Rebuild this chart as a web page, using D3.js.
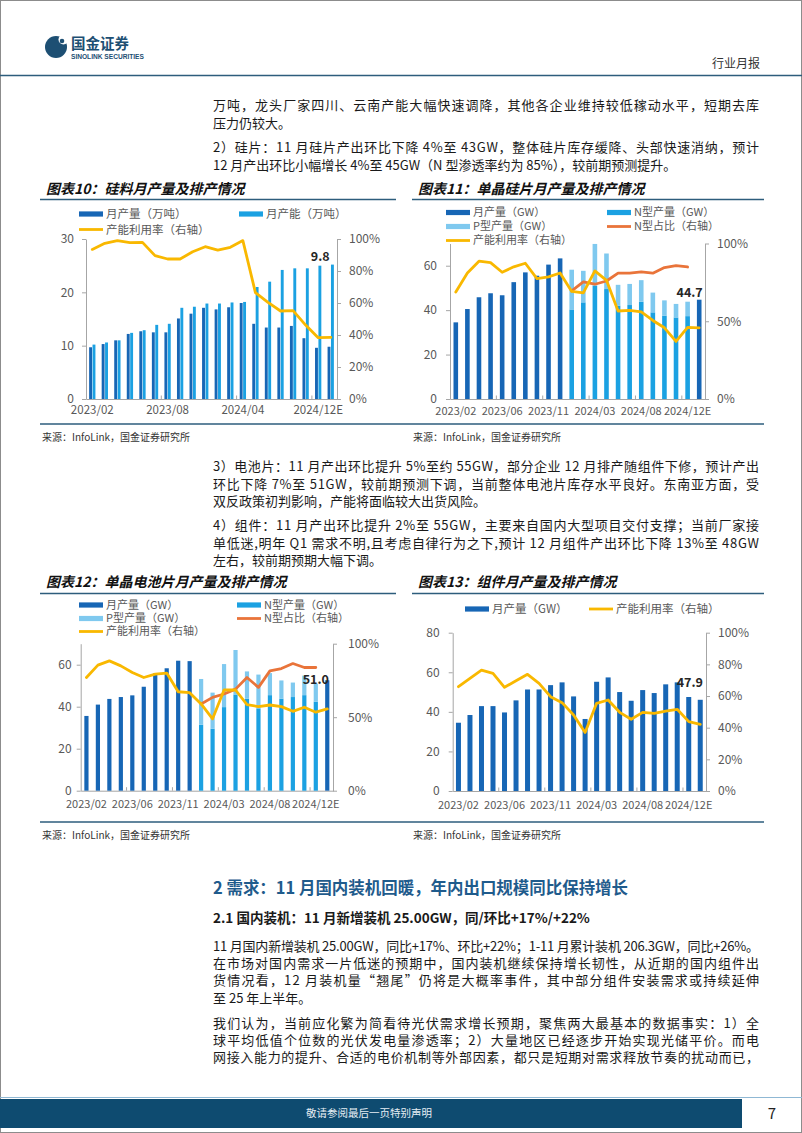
<!DOCTYPE html>
<html><head><meta charset="utf-8">
<script src="https://cdn.jsdelivr.net/npm/d3@7"></script>
<style>
body{margin:0;background:#fff;}
svg{display:block;font-family:"Noto Sans CJK SC","Noto Sans",sans-serif;}
</style></head><body>
<svg id="page" width="802" height="1133"></svg>
<script>
// ---------------- DATA ----------------
// Chart 10: polysilicon
const c10TickLabels = ["2023/02","2023/08","2024/04","2024/12E"];
const c10TickIdx = [0,6,12,18];
const c10Output   = [9.7,10.3,11.0,12.2,12.7,12.5,12.5,15.1,16.0,17.1,16.8,17.2,18.0,14.1,13.4,13.4,13.7,11.4,9.6,9.8];
const c10Capacity = [10.2,10.6,11.0,12.4,12.9,13.9,14.1,17.1,17.3,17.9,17.9,18.1,18.2,21.0,22.0,24.2,24.5,24.5,25.0,25.2];
const c10Util     = [0.935,0.973,0.99,0.977,0.979,0.896,0.875,0.875,0.92,0.952,0.931,0.948,0.99,0.665,0.604,0.55,0.552,0.462,0.383,0.385];
const c10LabelIdx = 18, c10LabelText = "9.8";

// Chart 11: mono wafers
const c11TickLabels = ["2023/02","2023/06","2023/11","2024/03","2024/08","2024/12E"];
const c11TickIdx = [0,4,8,12,16,20];
const N = null;
const c11Output = [34.5,40.5,45.8,47.6,46.7,52.6,57.0,55.5,60.5,63.3,N,N,N,N,N,N,N,N,N,N,N,44.7];
const c11NType  = [N,N,N,N,N,N,N,N,N,N,40.3,43.5,51.0,49.5,42.0,42.3,43.8,39.0,37.5,36.7,37.3,N];
const c11PType  = [N,N,N,N,N,N,N,N,N,N,17.9,14.2,18.8,16.0,9.4,9.5,9.7,8.9,6.9,6.1,6.5,N];
const c11NShare = [N,N,N,N,N,N,N,N,N,N,0.695,0.753,0.738,0.759,0.81,0.81,0.817,0.809,0.845,0.858,0.849,N];
const c11Util   = [0.688,0.81,0.886,0.877,0.815,0.85,0.873,0.774,0.785,0.81,0.692,0.682,0.824,0.763,0.566,0.57,0.561,0.505,0.458,0.37,0.46,0.458];
const c11LabelIdx = 20, c11LabelText = "44.7";

// Chart 12: mono cells
const c12TickLabels = ["2023/02","2023/06","2023/11","2024/03","2024/08","2024/12E"];
const c12TickIdx = [0,4,8,12,16,20];
const c12Output = [35.6,41.0,43.7,44.6,45.4,49.5,55.9,58.3,61.9,61.7,N,N,N,N,N,N,N,N,N,N,N,52.6];
const c12NType  = [N,N,N,N,N,N,N,N,N,N,31.4,29.5,39.8,45.8,43.8,39.2,45.5,43.8,44.6,45.5,42.4,N];
const c12PType  = [N,N,N,N,N,N,N,N,N,N,21.8,17.2,20.5,21.2,13.0,16.1,10.5,8.7,6.9,9.3,8.6,N];
const c12NShare = [N,N,N,N,N,N,N,N,N,N,0.59,0.635,0.658,0.691,0.77,0.703,0.815,0.831,0.865,0.838,0.838,N];
const c12Util   = [0.77,0.854,0.883,0.849,0.804,0.77,0.793,0.80,0.673,0.667,0.59,0.489,0.685,0.685,0.586,0.572,0.583,0.572,0.54,0.568,0.534,0.556];
const c12LabelIdx = 20, c12LabelText = "51.0";

// Chart 13: modules
const c13TickLabels = ["2023/02","2023/06","2023/11","2024/03","2024/08","2024/12E"];
const c13TickIdx = [0,4,8,12,16,20];
const c13Output = [34.5,38.4,42.9,42.9,39.7,45.8,51.3,51.3,53.5,54.9,47.8,36.4,55.2,57.4,50.0,45.6,51.0,49.5,53.9,54.9,47.5,46.1];
const c13Util   = [0.659,0.712,0.764,0.743,0.655,0.697,0.737,0.68,0.596,0.558,0.48,0.37,0.554,0.575,0.497,0.453,0.497,0.49,0.505,0.516,0.438,0.421];
const c13LabelIdx = 20, c13LabelText = "47.9";

// ---------------- STYLE ----------------
const DARK = "#1766b5", NBLUE = "#1ba1e2", PBLUE = "#7fc9ef", YEL = "#f9b800", ORG = "#e9743a";
const AXIS = "#a6a6a6", TXT = "#595959", RULE = "#2d5d7c";

const svg = d3.select("#page");

// page frame
svg.append("rect").attr("x",0.5).attr("y",0.5).attr("width",801).attr("height",1132)
  .attr("fill","none").attr("stroke","#8c8c8c");

// header
svg.append("circle").attr("cx",56).attr("cy",47).attr("r",11).attr("fill","#1d4f73");
svg.append("circle").attr("cx",63.5).attr("cy",39.5).attr("r",5).attr("fill","#fff");
svg.append("circle").attr("cx",62).attr("cy",41).attr("r",2.3).attr("fill","#1d4f73");
svg.append("text").attr("x",71).attr("y",49).attr("font-size",14.5).attr("font-weight",700)
  .attr("fill","#1d4f73").text("国金证券");
svg.append("text").attr("x",71).attr("y",59).attr("font-size",6.6).attr("font-weight",700)
  .attr("fill","#1d4f73").attr("font-family","Liberation Sans, Arial, sans-serif").text("SINOLINK SECURITIES");
svg.append("text").attr("x",760).attr("y",68).attr("text-anchor","end").attr("font-size",12)
  .attr("fill","#333").text("行业月报");
svg.append("line").attr("x1",0).attr("x2",802).attr("y1",75.5).attr("y2",75.5)
  .attr("stroke",RULE).attr("stroke-width",1.6);

// body text helper
function para(lines, x, y0, lh, opts={}){
  lines.forEach((l,i)=>{
    const t = svg.append("text").attr("x",x).attr("y",y0+i*lh)
      .attr("font-size",opts.size||13).attr("fill",opts.fill||"#1a1a1a")
      .attr("font-weight",opts.weight||400).text(l.t);
    if(l.j) t.attr("textLength",opts.width||546).attr("lengthAdjust","spacing");
  });
}
para([
  {t:"万吨，龙头厂家四川、云南产能大幅快速调降，其他各企业维持较低稼动水平，短期去库",j:1},
  {t:"压力仍较大。"}],213,110,17.5);
para([
  {t:"2）硅片：11 月硅片产出环比下降 4%至 43GW，整体硅片库存缓降、头部快速消纳，预计",j:1},
  {t:"12 月产出环比小幅增长 4%至 45GW（N 型渗透率约为 85%），较前期预测提升。"}],213,152,17.5);
para([
  {t:"3）电池片：11 月产出环比提升 5%至约 55GW，部分企业 12 月排产随组件下修，预计产出",j:1},
  {t:"环比下降 7%至 51GW，较前期预测下调，当前整体电池片库存水平良好。东南亚方面，受",j:1},
  {t:"双反政策初判影响，产能将面临较大出货风险。"}],213,471,17.5);
para([
  {t:"4）组件：11 月产出环比提升 2%至 55GW，主要来自国内大型项目交付支撑；当前厂家接",j:1},
  {t:"单低迷,明年 Q1 需求不明,且考虑自律行为之下,预计 12 月组件产出环比下降 13%至 48GW",j:1},
  {t:"左右，较前期预期大幅下调。"}],213,530,17.5);

// section heading
svg.append("text").attr("x",213).attr("y",894).attr("font-size",16.5).attr("font-weight",700)
  .attr("fill","#1f5b8c").attr("textLength",415).attr("lengthAdjust","spacingAndGlyphs")
  .text("2 需求：11 月国内装机回暖，年内出口规模同比保持增长");
svg.append("text").attr("x",213).attr("y",923).attr("font-size",13.5).attr("font-weight",700)
  .attr("fill","#1a1a1a").text("2.1 国内装机：11 月新增装机 25.00GW，同/环比+17%/+22%");
para([
  {t:"11 月国内新增装机 25.00GW，同比+17%、环比+22%；1-11 月累计装机 206.3GW，同比+26%。",j:1},
  {t:"在市场对国内需求一片低迷的预期中，国内装机继续保持增长韧性，从近期的国内组件出",j:1},
  {t:"货情况看，12 月装机量“翘尾”仍将是大概率事件，其中部分组件安装需求或持续延伸",j:1},
  {t:"至 25 年上半年。"}],213,951,17.2);
para([
  {t:"我们认为，当前应化繁为简看待光伏需求增长预期，聚焦两大最基本的数据事实：1）全",j:1},
  {t:"球平均低值个位数的光伏发电量渗透率；2）大量地区已经逐步开始实现光储平价。而电",j:1},
  {t:"网接入能力的提升、合适的电价机制等外部因素，都只是短期对需求释放节奏的扰动而已，",j:1}],213,1028,17.2);

// footer
svg.append("line").attr("x1",0).attr("x2",802).attr("y1",1097.5).attr("y2",1097.5).attr("stroke","#8fb8d4").attr("stroke-width",1);
svg.append("rect").attr("x",0).attr("y",1099).attr("width",742).attr("height",29).attr("fill","#0e4b70");
svg.append("text").attr("x",369).attr("y",1117).attr("text-anchor","middle").attr("font-size",10.5)
  .attr("fill","#e6eef4").text("敬请参阅最后一页特别声明");
svg.append("text").attr("x",772).attr("y",1119).attr("text-anchor","middle").attr("font-size",15)
  .attr("fill","#222").text("7");

// chart frame text
function frame(x0,x1,title,yTitle,yRule){
  svg.append("text").attr("x",x0+6).attr("y",yTitle).attr("font-size",14).attr("font-weight",700)
    .attr("font-style","italic").attr("fill","#111").text(title);
  svg.append("line").attr("x1",x0).attr("x2",x1).attr("y1",yRule).attr("y2",yRule)
    .attr("stroke",RULE).attr("stroke-width",1.5);
}
frame(40,396,"图表10：硅料月产量及排产情况",194,199.5);
frame(412,764,"图表11：单晶硅片月产量及排产情况",194,199.5);
frame(40,396,"图表12：单晶电池片月产量及排产情况",587,593.5);
frame(412,764,"图表13：组件月产量及排产情况",587,593.5);
[424,822].forEach(yy=>{
  svg.append("line").attr("x1",40).attr("x2",764).attr("y1",yy).attr("y2",yy).attr("stroke",RULE).attr("stroke-width",1.3);
  svg.append("text").attr("x",42).attr("y",yy+17).attr("font-size",10).attr("fill","#333").text("来源：InfoLink，国金证券研究所");
  svg.append("text").attr("x",413).attr("y",yy+17).attr("font-size",10).attr("fill","#333").text("来源：InfoLink，国金证券研究所");
});

// legend
function legend(items, fs){
  items.forEach(it=>{
    if(it.type==="bar") svg.append("rect").attr("x",it.x).attr("y",it.y-2.6).attr("width",24).attr("height",5.2).attr("fill",it.color);
    else svg.append("line").attr("x1",it.x).attr("x2",it.x+24).attr("y1",it.y).attr("y2",it.y)
      .attr("stroke",it.color).attr("stroke-width",2.8);
    svg.append("text").attr("x",it.x+27).attr("y",it.y).attr("dy","0.36em").attr("font-size",fs||11.5)
      .attr("fill",TXT).text(it.text);
  });
}

// chart drawer
function drawChart(c){
  const n = c.n;
  const g = svg.append("g");
  const x = d3.scaleBand().domain(d3.range(n)).range([c.left,c.right]);
  const bw = x.bandwidth();
  const y = d3.scaleLinear().domain([0,c.yMax]).range([c.bottom,c.top]);
  const yr = d3.scaleLinear().domain([0,1]).range([c.bottom,c.top]);

  const styleAx = sel=>{
    sel.select(".domain").attr("stroke",AXIS);
    sel.selectAll(".tick line").attr("stroke",AXIS);
    sel.selectAll("text").attr("fill",TXT).attr("font-size",12)
      .attr("font-family","'Noto Sans CJK SC','Noto Sans',sans-serif");
  };
  g.append("g").attr("transform",`translate(${c.left},0)`)
    .call(d3.axisLeft(y).tickValues(c.yTicks).tickSize(4).tickSizeOuter(0).tickPadding(c.lPad))
    .call(styleAx);
  g.append("g").attr("transform",`translate(${c.right},0)`)
    .call(d3.axisRight(yr).tickValues(c.rTicks).tickFormat(d3.format(".0%")).tickSize(4).tickSizeOuter(0).tickPadding(c.rPad))
    .call(styleAx);
  const xa = g.append("g").attr("transform",`translate(0,${c.bottom})`)
    .call(d3.axisBottom(x).tickValues(c.tickIdx).tickFormat((d,i)=>c.tickLabels[i]).tickSize(0).tickSizeOuter(0).tickPadding(c.xPad||7))
    .call(styleAx);
  xa.selectAll("text").attr("font-size",c.xFont||11);
  // separators at label group boundaries
  c.tickIdx.slice(1).forEach(k=>{
    g.append("line").attr("x1",x(k)).attr("x2",x(k)).attr("y1",c.bottom).attr("y2",c.bottom-3.5).attr("stroke",AXIS);
  });

  // bars
  c.bars.forEach(b=>{
    g.append("g").selectAll("rect").data(b.values.map((v,i)=>({v,i,base:b.base?b.base[i]:0})).filter(d=>d.v!=null))
      .join("rect")
      .attr("x",d=>x(d.i)+bw/2+b.off-b.w/2).attr("width",b.w)
      .attr("y",d=>y((d.base||0)+d.v)).attr("height",d=>y(d.base||0)-y((d.base||0)+d.v))
      .attr("fill",b.color);
  });
  // lines
  c.lines.forEach(l=>{
    const line = d3.line().defined(d=>d!=null).x((d,i)=>x(i)+bw/2).y(d=>yr(d)).curve(d3.curveLinear);
    g.append("path").datum(l.values).attr("d",line).attr("fill","none").attr("stroke",l.color)
      .attr("stroke-width",2.8).attr("stroke-linejoin","round").attr("stroke-linecap","round");
  });
  // value label
  const tops = c.bars.map(b=>b.values[c.labelIdx]==null?0:b.values[c.labelIdx]+(b.base&&b.base[c.labelIdx]?b.base[c.labelIdx]:0));
  g.append("text").attr("x",x(c.labelIdx)+bw/2+c.labelDx).attr("y",y(d3.max(tops))+c.labelDy)
    .attr("text-anchor","middle").attr("font-size",12.5).attr("font-weight",700).attr("fill","#262626")
    .text(c.labelText);
}

// Chart 10
legend([
  {type:"bar",x:79,y:214,color:DARK,text:"月产量（万吨）"},
  {type:"bar",x:239,y:214,color:NBLUE,text:"月产能（万吨）"},
  {type:"line",x:79,y:229.5,color:YEL,text:"产能利用率（右轴）"}]);
drawChart({n:c10Output.length,left:86,right:337,top:239,bottom:399,yMax:30,yTicks:[0,10,20,30],
  rTicks:[0,.2,.4,.6,.8,1],lPad:8,rPad:8,tickIdx:c10TickIdx,tickLabels:c10TickLabels,xFont:11.5,
  bars:[{values:c10Output,color:DARK,w:2.9,off:-1.7},{values:c10Capacity,color:NBLUE,w:2.9,off:1.7}],
  lines:[{values:c10Util,color:YEL}],labelIdx:c10LabelIdx,labelText:c10LabelText,labelDx:2,labelDy:-5});

// Chart 11
legend([
  {type:"bar",x:446,y:212.5,color:DARK,text:"月产量（GW）"},
  {type:"bar",x:607,y:212.5,color:NBLUE,text:"N型产量（GW）"},
  {type:"bar",x:446,y:226.5,color:PBLUE,text:"P型产量（GW）"},
  {type:"line",x:607,y:226.5,color:ORG,text:"N型占比（右轴）"},
  {type:"line",x:446,y:240.5,color:YEL,text:"产能利用率（右轴）"}], 11);
drawChart({n:c11Output.length,left:450,right:705,top:243.5,bottom:399,yMax:70,yTicks:[0,20,40,60],
  rTicks:[0,.5,1],lPad:9,rPad:8,tickIdx:c11TickIdx,tickLabels:c11TickLabels,xPad:8,
  bars:[{values:c11Output,color:DARK,w:4.6,off:0},{values:c11NType,color:NBLUE,w:4.6,off:0},
        {values:c11PType,base:c11NType,color:PBLUE,w:4.6,off:0}],
  lines:[{values:c11NShare,color:ORG},{values:c11Util,color:YEL}],
  labelIdx:c11LabelIdx,labelText:c11LabelText,labelDx:2,labelDy:-5});

// Chart 12
legend([
  {type:"bar",x:79,y:605,color:DARK,text:"月产量（GW）"},
  {type:"bar",x:237,y:605,color:NBLUE,text:"N型产量（GW）"},
  {type:"bar",x:79,y:618.5,color:PBLUE,text:"P型产量（GW）"},
  {type:"line",x:237,y:618.5,color:ORG,text:"N型占比（右轴）"},
  {type:"line",x:79,y:631.5,color:YEL,text:"产能利用率（右轴）"}], 11);
drawChart({n:c12Output.length,left:80.7,right:333,top:643.7,bottom:790.7,yMax:70,yTicks:[0,20,40,60],
  rTicks:[0,.5,1],lPad:5,rPad:11,tickIdx:c12TickIdx,tickLabels:c12TickLabels,xPad:10,
  bars:[{values:c12Output,color:DARK,w:4.2,off:0},{values:c12NType,color:NBLUE,w:4.2,off:0},
        {values:c12PType,base:c12NType,color:PBLUE,w:4.2,off:0}],
  lines:[{values:c12NShare,color:ORG},{values:c12Util,color:YEL}],
  labelIdx:c12LabelIdx,labelText:c12LabelText,labelDx:0,labelDy:0});

// Chart 13
legend([
  {type:"bar",x:465,y:609,color:DARK,text:"月产量（GW）"},
  {type:"line",x:589,y:609,color:YEL,text:"产能利用率（右轴）"}]);
drawChart({n:c13Output.length,left:452.7,right:706,top:632.7,bottom:791,yMax:80,yTicks:[0,20,40,60,80],
  rTicks:[0,.2,.4,.6,.8,1],lPad:9,rPad:8,tickIdx:c13TickIdx,tickLabels:c13TickLabels,xPad:10,
  bars:[{values:c13Output,color:DARK,w:5,off:0}],
  lines:[{values:c13Util,color:YEL}],
  labelIdx:c13LabelIdx,labelText:c13LabelText,labelDx:1,labelDy:-10});
</script>
</body></html>
